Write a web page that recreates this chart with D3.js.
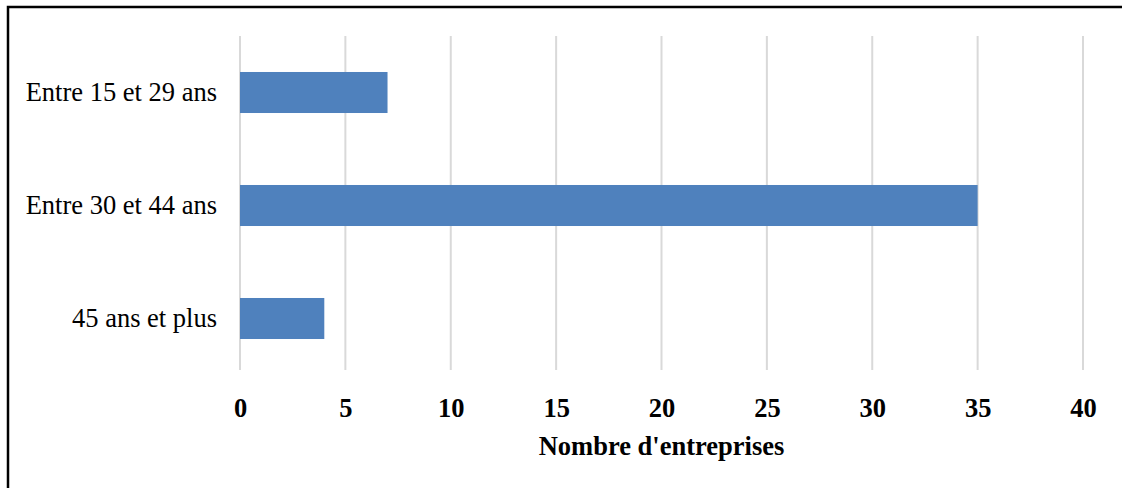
<!DOCTYPE html>
<html><head><meta charset="utf-8">
<script src="https://cdn.jsdelivr.net/npm/d3@7"></script>
<style>html,body{margin:0;padding:0;background:#fff;overflow:hidden}</style>
</head><body>
<svg id="c" width="1122" height="488"></svg>
<script>
const categories = ["Entre 15 et 29 ans", "Entre 30 et 44 ans", "45 ans et plus"];
const values = [7, 35, 4];
const xTicks = [0, 5, 10, 15, 20, 25, 30, 35, 40];
const xTitle = "Nombre d'entreprises";

const svg = d3.select("#c");
const font = "'Liberation Serif','Times New Roman',serif";
const fs = 26.5;

// frame
svg.append("path").attr("d", "M8,500 L8,7 L1140,7").attr("fill", "none").attr("stroke", "#000").attr("stroke-width", 2.5);

const x = d3.scaleLinear().domain([0, 40]).range([240, 1083]);
const y = d3.scaleBand().domain(categories).range([36, 375]).paddingInner(0.637).paddingOuter(0.3185);

// gridlines
svg.append("g").selectAll("line").data(xTicks).join("line")
  .attr("x1", d => x(d)).attr("x2", d => x(d)).attr("y1", 36).attr("y2", 370)
  .attr("stroke", "#d9d9d9").attr("stroke-width", 2);

// bars
svg.append("g").selectAll("rect").data(values).join("rect")
  .attr("x", x(0)).attr("y", (d, i) => y(categories[i]))
  .attr("width", d => x(d) - x(0)).attr("height", y.bandwidth())
  .attr("fill", "#4f81bd");

// x axis tick labels
const xAxis = d3.axisBottom(x).tickValues(xTicks).tickSize(0).tickPadding(0);
const gx = svg.append("g").attr("transform", "translate(0,398)").call(xAxis);
gx.select(".domain").remove();
gx.selectAll("text").attr("font-family", font).attr("font-size", fs).attr("font-weight", "bold").attr("fill", "#000");

// y axis labels
const yAxis = d3.axisLeft(y).tickSize(0).tickPadding(0);
const gy = svg.append("g").attr("transform", "translate(217,0)").call(yAxis);
gy.select(".domain").remove();
gy.selectAll("text").attr("font-family", font).attr("font-size", fs).attr("fill", "#000");

// x title
svg.append("text").attr("x", (x(0) + x(40)) / 2).attr("y", 455)
  .attr("text-anchor", "middle").attr("font-family", font).attr("font-size", fs)
  .attr("font-weight", "bold").text(xTitle);
</script>
</body></html>
